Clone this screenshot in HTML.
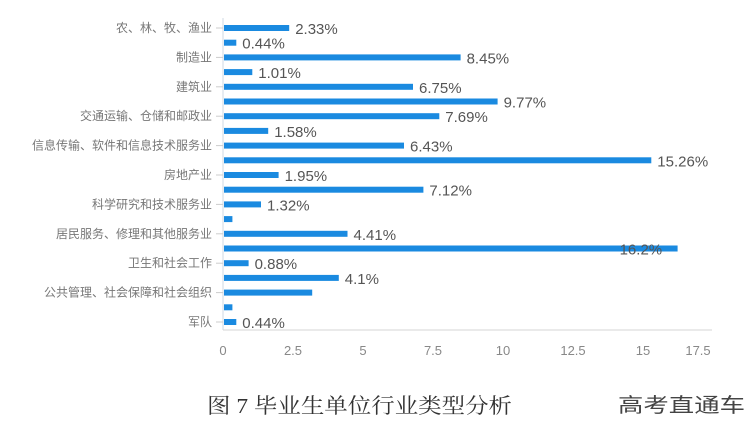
<!DOCTYPE html>
<html><head><meta charset="utf-8"><style>
html,body{margin:0;padding:0;background:#fff;}
svg{display:block;}
</style></head><body>
<svg width="753" height="436" xmlns="http://www.w3.org/2000/svg">
<g font-family="'Liberation Sans','Noto Sans CJK SC',sans-serif">
<line x1="223" y1="18" x2="223" y2="330" stroke="#cfd8e3" stroke-width="1"/>
<line x1="223" y1="330" x2="712" y2="330" stroke="#d6d6d6" stroke-width="1"/>
<g fill="#1a8ae0">
<rect x="224" y="25" width="65.2" height="6"/>
<rect x="224" y="39.7" width="12.3" height="6"/>
<rect x="224" y="54.4" width="236.6" height="6"/>
<rect x="224" y="69.1" width="28.3" height="6"/>
<rect x="224" y="83.8" width="189" height="6"/>
<rect x="224" y="98.5" width="273.6" height="6"/>
<rect x="224" y="113.2" width="215.3" height="6"/>
<rect x="224" y="127.9" width="44.2" height="6"/>
<rect x="224" y="142.6" width="180" height="6"/>
<rect x="224" y="157.3" width="427.3" height="6"/>
<rect x="224" y="172" width="54.6" height="6"/>
<rect x="224" y="186.7" width="199.4" height="6"/>
<rect x="224" y="201.4" width="37" height="6"/>
<rect x="224" y="216.1" width="8.4" height="6"/>
<rect x="224" y="230.8" width="123.5" height="6"/>
<rect x="224" y="245.5" width="453.6" height="6"/>
<rect x="224" y="260.2" width="24.6" height="6"/>
<rect x="224" y="274.9" width="114.8" height="6"/>
<rect x="224" y="289.6" width="88.2" height="6"/>
<rect x="224" y="304.3" width="8.4" height="6"/>
<rect x="224" y="319" width="12.3" height="6"/>
</g>
<g fill="#555" font-size="15">
<text x="295.2" y="34">2.33%</text>
<text x="242.3" y="48.7">0.44%</text>
<text x="466.6" y="63.4">8.45%</text>
<text x="258.3" y="78.1">1.01%</text>
<text x="419" y="92.8">6.75%</text>
<text x="503.6" y="107.5">9.77%</text>
<text x="445.3" y="122.2">7.69%</text>
<text x="274.2" y="136.9">1.58%</text>
<text x="410" y="151.6">6.43%</text>
<text x="657.3" y="166.3">15.26%</text>
<text x="284.6" y="181">1.95%</text>
<text x="429.4" y="195.7">7.12%</text>
<text x="267" y="210.4">1.32%</text>
<text x="353.5" y="239.8">4.41%</text>
<text x="619.6" y="254.5">16.2%</text>
<text x="254.6" y="269.2">0.88%</text>
<text x="344.8" y="283.9">4.1%</text>
<text x="242.3" y="328">0.44%</text>
</g>
<g fill="#777" font-size="12" text-anchor="end">
<text x="212" y="32">农、林、牧、渔业</text>
<text x="212" y="61.4">制造业</text>
<text x="212" y="90.8">建筑业</text>
<text x="212" y="120.2">交通运输、仓储和邮政业</text>
<text x="212" y="149.6">信息传输、软件和信息技术服务业</text>
<text x="212" y="179">房地产业</text>
<text x="212" y="208.4">科学研究和技术服务业</text>
<text x="212" y="237.8">居民服务、修理和其他服务业</text>
<text x="212" y="267.2">卫生和社会工作</text>
<text x="212" y="296.6">公共管理、社会保障和社会组织</text>
<text x="212" y="326">军队</text>
</g>
<g stroke="#ccc">
<line x1="216" x2="223" y1="28" y2="28"/><line x1="216" x2="223" y1="57.4" y2="57.4"/><line x1="216" x2="223" y1="86.8" y2="86.8"/><line x1="216" x2="223" y1="116.2" y2="116.2"/><line x1="216" x2="223" y1="145.6" y2="145.6"/><line x1="216" x2="223" y1="175" y2="175"/><line x1="216" x2="223" y1="204.4" y2="204.4"/><line x1="216" x2="223" y1="233.8" y2="233.8"/><line x1="216" x2="223" y1="263.2" y2="263.2"/><line x1="216" x2="223" y1="292.6" y2="292.6"/><line x1="216" x2="223" y1="322" y2="322"/>
</g>
<g fill="#888" font-size="13" text-anchor="middle">
<text x="223" y="355">0</text><text x="293" y="355">2.5</text><text x="363" y="355">5</text><text x="433" y="355">7.5</text><text x="503" y="355">10</text><text x="573" y="355">12.5</text><text x="643" y="355">15</text><text x="698" y="355">17.5</text>
</g>
<text x="207" y="413" font-family="'Liberation Serif','Noto Serif CJK SC',serif" font-size="21" fill="#333" textLength="305" lengthAdjust="spacingAndGlyphs">图 7 毕业生单位行业类型分析</text>
<text x="618" y="412" font-size="20" fill="#444" textLength="127" lengthAdjust="spacingAndGlyphs">高考直通车</text>
</g>
</svg>
</body></html>
